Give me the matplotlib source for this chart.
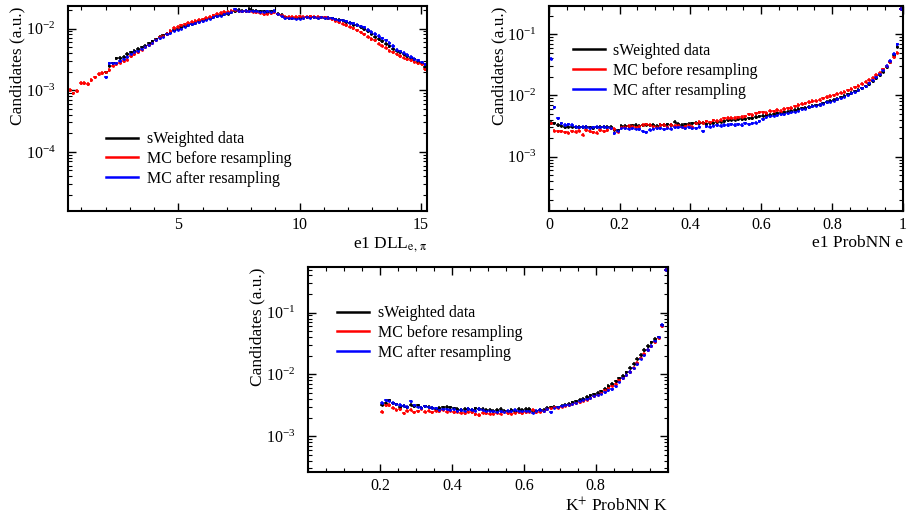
import numpy as np
import matplotlib
matplotlib.use('Agg')
import matplotlib.pyplot as plt
from matplotlib.lines import Line2D
from matplotlib.ticker import MultipleLocator, FixedLocator, LogLocator, NullFormatter

plt.rcParams['font.family'] = ['Liberation Serif', 'DejaVu Serif']
plt.rcParams['mathtext.fontset'] = 'stix'

labels = ['sWeighted data', 'MC before resampling', 'MC after resampling']
colors = ['black', 'red', 'blue']
nbins = 100

# --- e1 DLL(e,pi), values in units of 1e-3 ---
dll_range = (0.45, 15.25)
dll_first_bin = {'data': 10, 'before': 0, 'after': 10}
dll_data = [1.95, 2.50, 2.75, 3.30, 3.35, 3.50, 3.90, 4.10, 4.35, 4.70,
            5.00, 5.30, 5.80, 6.20, 6.70, 7.30, 7.80, 8.30, 8.80, 9.40,
            9.90, 10.5, 11.0, 11.4, 12.0, 12.5, 13.1, 13.5, 14.0, 14.6,
            15.3, 15.9, 16.5, 17.0, 17.5, 18.4, 19.2, 20.3, 19.5, 19.4,
            20.8, 19.3, 19.2, 19.0, 18.9, 18.8, 19.1, 19.0, 17.4, 16.6,
            15.2, 15.0, 14.8, 14.9, 14.7, 15.0, 15.2, 15.3, 15.1, 15.0,
            15.2, 15.0, 14.8, 14.6, 14.2, 13.8, 13.5, 12.9, 12.4, 11.6,
            11.2, 10.6, 9.8, 9.1, 8.3, 7.4, 6.8, 6.2, 5.7, 5.2,
            4.7, 4.4, 4.1, 3.85, 3.55, 3.3, 3.15, 2.9, 2.75, 2.4]
dll_before = [1.01, 0.89, 0.97, 1.31, 1.31, 1.26, 1.47, 1.62, 1.83, 1.90,
              1.95, 2.13, 2.50, 2.62, 2.80, 2.95, 3.12, 3.55, 3.80, 4.15,
              4.55, 4.95, 5.40, 5.80, 6.60, 7.20, 7.70, 8.30, 9.20, 10.2,
              10.6, 11.2, 11.8, 12.3, 12.8, 13.3, 13.8, 14.2, 14.8, 15.4,
              16.4, 17.2, 18.0, 18.5, 18.8, 19.4, 19.7, 19.2, 19.0, 19.1,
              19.0, 18.8, 18.6, 18.0, 17.0, 17.3, 17.6, 18.3, 17.0, 16.4,
              15.6, 15.5, 15.6, 15.5, 15.7, 15.4, 15.6, 15.8, 15.5, 15.4,
              15.3, 15.2, 14.8, 14.2, 13.4, 12.8, 12.0, 11.4, 10.7, 10.1,
              9.4, 8.7, 8.1, 7.4, 6.8, 6.4, 5.7, 5.3, 4.9, 4.4,
              4.1, 3.8, 3.6, 3.35, 3.15, 3.05, 2.9, 2.75, 2.65, 2.2]
dll_after = [1.62, 2.73, 2.73, 2.75, 3.00, 3.20, 3.50, 3.90, 4.20, 4.40,
             4.70, 5.10, 5.40, 5.90, 6.40, 6.90, 7.40, 8.10, 8.50, 9.20,
             9.60, 10.0, 10.7, 11.3, 11.7, 12.1, 12.8, 13.3, 13.9, 14.5,
             15.3, 15.7, 16.2, 17.0, 17.6, 18.6, 20.5, 19.3, 19.1, 19.4,
             19.2, 19.0, 19.1, 18.6, 18.8, 18.9, 18.7, 19.4, 17.0, 16.0,
             14.8, 14.7, 14.6, 14.4, 14.5, 15.0, 15.1, 15.0, 15.2, 15.0,
             15.1, 14.9, 14.9, 14.6, 14.1, 13.6, 13.6, 13.0, 12.5, 12.1,
             11.5, 10.8, 10.4, 9.6, 8.8, 8.2, 7.6, 7.0, 6.4, 5.9,
             5.2, 4.5, 4.3, 4.0, 3.75, 3.45, 3.2, 3.05, 2.85, 2.65]

# --- e1 ProbNN e, values in units of 1e-3 ---
pe_range = (0.0, 1.0)
pe_first_bin = {'data': 0, 'before': 0, 'after': 0}
pe_data = [3.6, 3.5, 3.3, 3.2, 3.05, 3.1, 3.1, 3.0, 3.05, 3.0,
           3.05, 3.0, 2.95, 3.0, 3.1, 3.1, 3.05, 3.05, 2.75, 2.7,
           3.2, 3.2, 3.15, 3.25, 3.3, 3.2, 3.25, 3.35, 3.25, 3.3,
           3.2, 3.35, 3.3, 3.4, 3.3, 3.75, 3.45, 3.3, 3.4, 3.45,
           3.5, 3.55, 3.5, 3.6, 3.4, 3.5, 3.6, 3.7, 3.75, 3.8,
           3.9, 4.0, 4.0, 4.05, 4.1, 4.15, 4.2, 4.3, 4.45, 4.6,
           4.7, 4.75, 4.8, 4.95, 5.1, 5.2, 5.3, 5.45, 5.6, 5.8,
           6.0, 6.2, 6.3, 6.5, 6.8, 6.9, 7.1, 7.5, 7.9, 8.2,
           8.5, 8.8, 9.3, 9.8, 10.4, 11.0, 11.6, 12.3, 13.1, 14.1,
           15.4, 17.0, 19.0, 21.5, 24.5, 29.0, 35.0, 45.0, 62.0, 260.0]
pe_before = [3.5, 2.65, 2.6, 2.6, 2.5, 2.45, 2.6, 2.55, 2.65, 2.3,
             2.7, 2.6, 2.5, 2.45, 2.7, 2.6, 2.7, 2.9, 2.85, 2.55,
             3.0, 3.1, 3.2, 3.2, 3.0, 3.15, 3.35, 3.4, 3.3, 3.15,
             3.1, 3.35, 3.3, 3.1, 3.35, 3.2, 3.25, 3.1, 3.15, 3.3,
             3.05, 3.5, 3.7, 3.6, 3.8, 3.65, 3.9, 3.85, 4.0, 4.2,
             4.3, 4.35, 4.3, 4.4, 4.5, 4.6, 4.9, 4.8, 5.1, 5.3,
             5.3, 5.2, 5.6, 5.5, 5.8, 5.6, 6.0, 6.2, 6.3, 6.6,
             7.0, 7.3, 7.5, 7.8, 8.1, 8.2, 8.5, 9.0, 9.4, 9.8,
             10.1, 10.6, 11.1, 11.5, 12.1, 12.8, 13.6, 14.5, 15.5, 16.8,
             18.0, 19.5, 21.5, 23.5, 26.5, 30.0, 35.0, 42.0, 50.0, 260.0]
pe_after = [39.5, 6.4, 4.2, 3.5, 3.3, 3.4, 3.35, 3.1, 3.0, 3.05,
            3.1, 2.95, 3.0, 3.05, 3.0, 3.1, 3.0, 2.95, 2.4, 2.65,
            2.9, 2.95, 2.85, 2.9, 2.85, 2.8, 2.6, 2.5, 2.75, 2.85,
            2.95, 2.9, 2.8, 2.95, 2.85, 3.0, 3.05, 3.1, 2.95, 3.0,
            2.95, 2.9, 3.1, 2.6, 3.15, 3.1, 3.2, 3.25, 3.2, 3.3,
            3.3, 3.4, 3.3, 3.4, 3.3, 3.5, 3.4, 3.5, 3.6, 3.8,
            4.1, 4.4, 4.6, 4.7, 4.8, 4.9, 5.0, 5.1, 5.3, 5.4,
            5.6, 5.9, 6.1, 6.4, 6.6, 6.8, 7.1, 7.3, 7.7, 7.9,
            8.2, 8.6, 9.0, 9.5, 10.1, 10.8, 11.4, 12.2, 13.0, 14.2,
            15.8, 17.5, 19.6, 22.0, 25.5, 30.5, 37.0, 48.0, 68.0, 260.0]

# --- K+ ProbNN K, values in units of 1e-3 (bins start at 0.2) ---
pk_range = (0.0, 1.0)
pk_first_bin = {'data': 20, 'before': 20, 'after': 20}
pk_data = [3.25, 3.4, 3.8, 3.4, 3.3, 3.0, 3.1, 2.95, 3.25, 3.05,
           3.15, 2.9, 3.05, 3.0, 2.9, 2.8, 2.9, 2.95, 3.0, 2.95,
           2.85, 2.75, 2.7, 2.75, 2.8, 2.7, 2.85, 2.8, 2.75, 2.65,
           2.7, 2.6, 2.65, 2.8, 2.6, 2.55, 2.7, 2.6, 2.75, 2.7,
           2.75, 2.8, 2.6, 2.55, 2.65, 2.7, 2.9, 2.95, 3.0, 2.95,
           3.1, 3.2, 3.35, 3.55, 3.7, 3.85, 4.05, 4.3, 4.6, 4.8,
           5.0, 5.35, 5.9, 6.5, 7.0, 7.8, 8.6, 9.6, 10.8, 12.8,
           15.0, 18.0, 21.0, 25.0, 29.0, 33.0, 38.0, 40.0, 62.0, 500.0]
pk_before = [2.5, 3.15, 3.2, 2.9, 2.7, 2.75, 2.35, 2.6, 2.7, 2.45,
             2.55, 2.8, 2.5, 2.6, 2.45, 2.6, 2.55, 2.7, 2.5, 2.6,
             2.45, 2.5, 2.4, 2.35, 2.5, 2.45, 2.25, 2.2, 2.4, 2.35,
             2.3, 2.3, 2.4, 2.3, 2.5, 2.35, 2.3, 2.4, 2.45, 2.35,
             2.45, 2.5, 2.7, 2.45, 2.5, 2.6, 2.75, 2.85, 2.95, 2.9,
             3.0, 3.1, 3.2, 3.3, 3.4, 3.55, 3.75, 3.9, 4.1, 4.4,
             4.7, 5.0, 5.5, 6.0, 6.6, 7.1, 8.0, 8.8, 9.8, 11.0,
             12.8, 15.5, 18.5, 21.5, 25.0, 28.5, 33.0, 39.0, 60.0, 500.0]
pk_after = [3.5, 3.8, 3.75, 3.5, 3.3, 3.2, 3.1, 3.0, 3.7, 3.15,
            3.0, 2.9, 3.05, 2.95, 2.9, 2.85, 2.7, 2.75, 2.8, 2.7,
            2.75, 2.6, 2.65, 2.6, 2.75, 2.7, 2.6, 2.75, 2.7, 2.55,
            2.6, 2.55, 2.45, 2.55, 2.5, 2.6, 2.55, 2.7, 2.6, 2.55,
            2.6, 2.55, 2.4, 2.6, 2.65, 2.55, 2.75, 2.45, 2.9, 2.95,
            3.05, 3.15, 3.25, 3.35, 3.5, 3.7, 3.85, 3.95, 4.2, 4.5,
            4.7, 4.9, 5.2, 5.6, 5.7, 6.5, 7.6, 8.6, 9.8, 11.0,
            12.6, 14.8, 18.0, 20.5, 25.0, 29.0, 34.5, 40.0, 63.0, 500.0]

rel_err = 0.06


def draw(ax, xrange, first, series, xlim, ylim, xlabel, leg_anchor):
    edges = np.linspace(xrange[0], xrange[1], nbins + 1)
    centers = 0.5 * (edges[1:] + edges[:-1])
    half = 0.5 * (edges[1] - edges[0])
    for key, vals, c in zip(['data', 'before', 'after'], series, colors):
        y = np.array(vals) * 1e-3
        x = centers[first[key]:first[key] + len(y)]
        ax.errorbar(x, y, xerr=half, yerr=rel_err * y, fmt='o', ms=1.0,
                    color=c, ecolor=c, elinewidth=1.1, capsize=0)
    ax.set_yscale('log')
    ax.set_xlim(*xlim)
    ax.set_ylim(*ylim)
    ax.yaxis.set_major_locator(LogLocator(base=10, numticks=10))
    ax.yaxis.set_minor_locator(LogLocator(base=10, subs=np.arange(2, 10), numticks=10))
    ax.yaxis.set_minor_formatter(NullFormatter())
    ax.tick_params(which='both', direction='in', top=True, right=True, labelsize=11.5)
    ax.tick_params(which='major', length=6, width=1.0)
    ax.tick_params(which='minor', length=3, width=0.8)
    ax.tick_params(axis='y', which='major', pad=9)
    ax.tick_params(axis='x', which='major', pad=4)
    for s in ax.spines.values():
        s.set_linewidth(1.5)
    ax.set_xlabel(xlabel, fontsize=12.5, loc='right', labelpad=2)
    ax.set_ylabel('Candidates (a.u.)', fontsize=12.5, loc='top')
    ax.yaxis.set_label_coords(-0.118, 1.0)
    handles = [Line2D([], [], color=c, lw=1.8) for c in colors]
    ax.legend(handles, labels, loc='upper left', bbox_to_anchor=leg_anchor,
              frameon=False, fontsize=11.5, handlelength=2.0, handletextpad=0.55,
              labelspacing=0.24, borderpad=0, borderaxespad=0)


fig = plt.figure(figsize=(9.08, 5.16), dpi=100)
ax1 = fig.add_axes([0.0749, 0.591, 0.3954, 0.397])
ax2 = fig.add_axes([0.6046, 0.591, 0.3895, 0.397])
ax3 = fig.add_axes([0.3395, 0.0847, 0.3958, 0.397])

draw(ax1, dll_range, dll_first_bin, [dll_data, dll_before, dll_after],
     (0.45, 15.25), (1.1e-5, 2.3e-2), r'e1 DLL$_{\mathrm{e,\,\pi}}$', (0.106, 0.39))
ax1.xaxis.set_major_locator(FixedLocator([5, 10, 15]))
ax1.xaxis.set_minor_locator(MultipleLocator(1))

draw(ax2, pe_range, pe_first_bin, [pe_data, pe_before, pe_after],
     (0.0, 1.0), (1.3e-4, 0.285), 'e1 ProbNN e', (0.067, 0.82))
ax2.xaxis.set_major_locator(FixedLocator([0, 0.2, 0.4, 0.6, 0.8, 1.0]))
ax2.xaxis.set_minor_locator(MultipleLocator(0.05))
ax2.set_xticklabels(['0', '0.2', '0.4', '0.6', '0.8', '1'])

draw(ax3, pk_range, pk_first_bin, [pk_data, pk_before, pk_after],
     (0.0, 1.0), (2.6e-4, 0.54), r'K$^{+}$ ProbNN K', (0.08, 0.816))
ax3.xaxis.set_major_locator(FixedLocator([0.2, 0.4, 0.6, 0.8]))
ax3.xaxis.set_minor_locator(MultipleLocator(0.05))

fig.savefig('out.png', dpi=100)
